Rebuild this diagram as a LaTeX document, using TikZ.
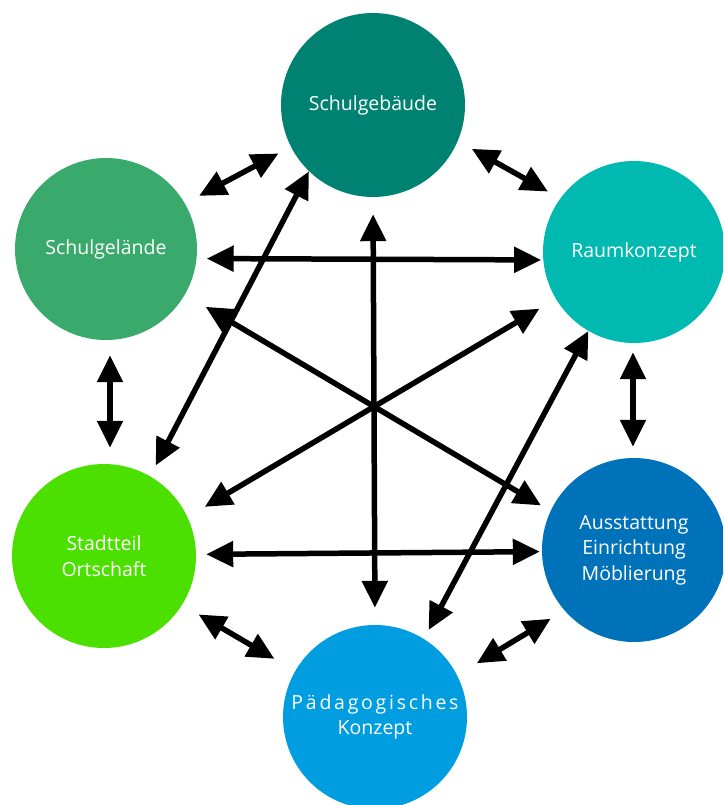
\documentclass[tikz,border=0pt]{standalone}
\usepackage{fontspec}
\setmainfont{Open Sans}
\usetikzlibrary{arrows.meta}
\definecolor{cgeb}{HTML}{008272}
\definecolor{cgel}{HTML}{3AAA6C}
\definecolor{craum}{HTML}{00B9B1}
\definecolor{cst}{HTML}{4CE000}
\definecolor{caus}{HTML}{0072B9}
\definecolor{cpaed}{HTML}{009EE0}
\tikzset{
  ball/.style={circle, minimum size=184pt, inner sep=0pt, text=white, align=center,
    font=\fontsize{19.5pt}{25.5pt}\selectfont},
  arr/.style={line width=5.5pt, {Triangle[length=27pt,width=25pt]}-{Triangle[length=27pt,width=25pt]}}
}
\begin{document}
\begin{tikzpicture}[x=1pt,y=-1pt]
\useasboundingbox (0,0) rectangle (723,805);
\clip (0,0) rectangle (723,805);
\node[ball, fill=cgeb] (geb) at (373,105) {\raisebox{-2pt}{Schulgebäude}};
\node[ball, fill=cgel, minimum size=182pt] (gel) at (106,249) {Schulgelände};
\node[ball, fill=craum, minimum size=182pt] (raum) at (634,252) {Raumkonzept};
\node[ball, fill=cst] (st) at (104,556) {Stadtteil\\Ortschaft};
\node[ball, fill=caus] (aus) at (634,550) {Ausstattung\\Einrichtung\\Möblierung};
\node[ball, fill=cpaed] (paed) at (375,717) {{\addfontfeature{LetterSpace=14}Pädagogisches}\\Konzept};

\draw[arr, shorten <=16pt, shorten >=14pt] (gel.30) -- (geb.207);
\draw[arr, shorten <=16pt, shorten >=14pt] (geb.-23.5) -- (raum.144.6);
\draw[arr, shorten <=17pt, shorten >=17pt] (geb.-90) -- (paed.90);
\draw[arr, shorten <=10pt, shorten >=2pt] (gel.-6.2) -- (raum.185);
\draw[arr, shorten <=24pt, shorten >=11pt] (gel.-30.8) -- (aus.155.9);
\draw[arr, shorten <=19pt, shorten >=20pt] (raum.211.7) -- (st.25.4);
\draw[arr, shorten <=0pt, shorten >=12pt] (geb.226) -- (st.60.7);
\draw[arr, shorten <=0pt, shorten >=10pt] (raum.240) -- (paed.58.6);
\draw[arr, shorten <=15pt, shorten >=16pt] ([xshift=4pt]gel.south) -- ([xshift=4pt]gel.south |- st.north);
\draw[arr, shorten <=9pt, shorten >=11pt] ([xshift=-1pt]raum.south) -- ([xshift=-1pt]raum.south |- aus.north);
\draw[arr, shorten <=10pt, shorten >=2pt] (st.1.7) -- (aus.181.8);
\draw[arr, shorten <=19pt, shorten >=24pt] (st.-32) -- (paed.150.6);
\draw[arr, shorten <=16pt, shorten >=23pt] (aus.221.6) -- (paed.27.5);
\end{tikzpicture}
\end{document}
